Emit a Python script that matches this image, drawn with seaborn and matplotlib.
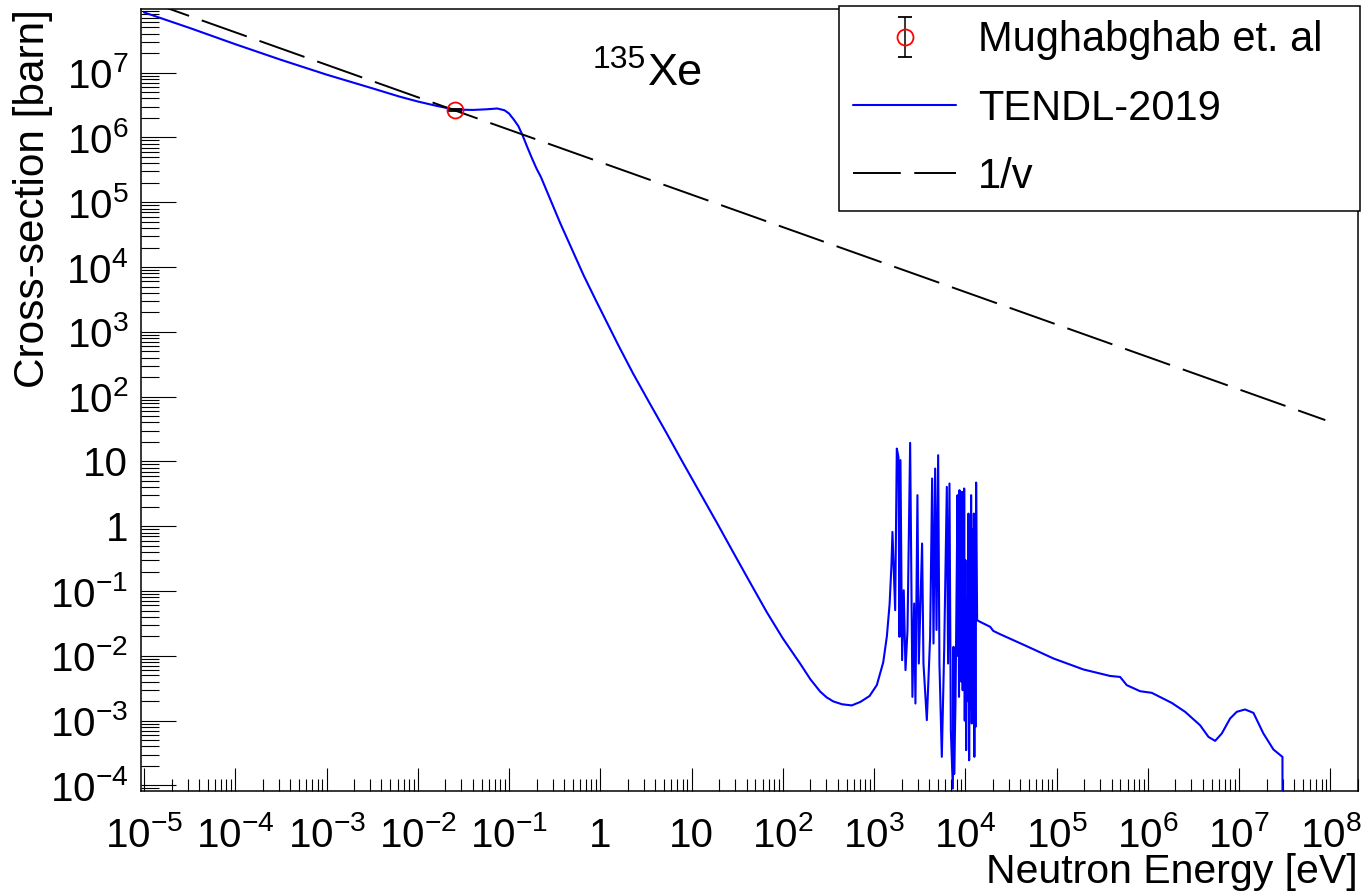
import numpy as np
import pandas as pd
import matplotlib
matplotlib.use("Agg")
import matplotlib.pyplot as plt
import seaborn as sns
from matplotlib.ticker import FixedLocator, FixedFormatter, LogLocator, NullFormatter
from matplotlib.container import ErrorbarContainer
from matplotlib.legend_handler import HandlerErrorbar

# ---------------- data ----------------
# TENDL-2019 135Xe(n,g): thermal / 1/v region, 0.08 eV resonance, valley, first resolved resonance
energy_thermal = [1.00e-5, 3.16e-5, 1.00e-4, 3.16e-4, 1.00e-3, 3.16e-3, 6.31e-3, 1.00e-2, 1.58e-2, 2.51e-2,
                  3.98e-2, 5.62e-2, 7.41e-2, 8.91e-2, 0.100, 0.112, 0.126, 0.141, 0.158, 0.178,
                  0.200, 0.224, 0.282, 0.363, 0.501, 0.652, 0.891, 1.18, 1.58, 2.30,
                  3.55, 5.35, 7.94, 12.4, 19.1, 28.7, 43.7, 66.7, 100, 155,
                  200, 256, 302, 358, 447, 569, 708, 891, 1072, 1259,
                  1380, 1479, 1549, 1589]
xs_thermal = [8.51e7, 4.90e7, 2.75e7, 1.58e7, 9.33e6, 5.75e6, 4.27e6, 3.59e6, 3.09e6, 2.70e6,
              2.66e6, 2.72e6, 2.80e6, 2.63e6, 2.34e6, 1.91e6, 1.51e6, 1.07e6, 7.16e5, 4.79e5,
              3.31e5, 2.43e5, 1.12e5, 4.79e4, 1.74e4, 7.60e3, 3.09e3, 1.40e3, 617, 224,
              75.0, 27.0, 9.89, 3.25, 1.11, 0.393, 0.136, 0.0473, 0.0186, 7.57e-3,
              4.37e-3, 2.82e-3, 2.29e-3, 1.98e-3, 1.79e-3, 1.72e-3, 1.95e-3, 2.40e-3, 3.55e-3, 7.94e-3,
              0.0200, 0.0631, 0.251, 0.818]

# resolved resonance region
energy_resonance = [1702, 1774, 1849, 1897, 1945, 2028, 2113, 2208, 2323, 2483,
                    2630, 2748, 2838, 2985, 3090, 3357, 3475, 3784, 4111, 4325,
                    4477, 4667, 4831, 5035, 5200, 5521, 5861, 6266, 6471, 6699,
                    6934, 7295, 7420, 7540, 7800, 8204, 8300, 8414, 8520, 8630,
                    8760, 8913, 9050, 9226, 9350, 9500, 9600, 9705, 9850, 10023,
                    10200, 10375, 10550, 10814, 11000, 11200, 11380, 11561, 11760, 11967,
                    12150, 12388, 12550, 12706, 12900, 13122]
xs_resonance = [0.0507, 15.8, 11.7, 0.0197, 10.5, 8.59e-3, 0.103, 6.03e-3, 0.0249, 19.4,
                2.33e-3, 0.0643, 1.84e-3, 3.02, 7.62e-3, 0.542, 7.62e-3, 1.02e-3, 0.0197, 5.46,
                0.0155, 7.78, 0.0251, 12.5, 7.62e-3, 2.77e-4, 0.0122, 4.06, 7.62e-3, 4.57,
                7.14e-4, 8.97e-5, 0.0138, 1.5e-4, 2.0e-3, 3.02, 1.0e-2, 0.5, 2.33e-3, 3.61,
                5.0e-3, 1.2, 4.0e-3, 3.40, 2.95e-3, 0.8, 4.0e-3, 3.83, 1.0e-3, 0.3,
                3.51e-4, 0.05, 2.0e-3, 1.57, 2.45e-4, 0.4, 1.5e-3, 3.02, 9.04e-4, 0.9,
                1.2e-3, 1.57, 2.77e-4, 0.6, 8.0e-4, 4.73]

# unresolved / fast region
energy_fast = [13459, 14521, 18707, 20230, 24044, 47098, 92257, 1.968e5, 3.855e5, 4.966e5,
               5.875e5, 8.222e5, 1.104e6, 1.828e6, 2.559e6, 3.733e6, 4.613e6, 5.458e6,
               6.457e6, 7.962e6, 9.419e6, 1.161e7, 1.435e7, 1.845e7, 2.377e7, 2.985e7, 3.0e7]
xs_fast = [0.0356, 0.0335, 0.0281, 0.0243, 0.0216, 0.0141, 9.12e-3, 6.17e-3, 4.90e-3, 4.73e-3,
           3.53e-3, 2.85e-3, 2.69e-3, 1.88e-3, 1.37e-3, 8.51e-4, 5.62e-4, 4.88e-4,
           6.34e-4, 1.08e-3, 1.37e-3, 1.49e-3, 1.32e-3, 6.34e-4, 3.59e-4, 2.76e-4, 1.0e-8]

# 1/v reference line (end points)
energy_1v = [1.0e-5, 8.8e7]
xs_1v = [1.33e8, 43.5]

# Mughabghab thermal value
energy_exp = [0.0253]
xs_exp = [2.65e6]
xs_exp_err = [0.11e6]

series_labels = ["Mughabghab et. al", "TENDL-2019", "1/v"]
title_mass = "135"
title_elem = "Xe"
x_title = "Neutron Energy [eV]"
y_title = "Cross-section [barn]"

x_ticks = [1e-5, 1e-4, 1e-3, 1e-2, 1e-1, 1, 10, 1e2, 1e3, 1e4, 1e5, 1e6, 1e7, 1e8]
x_tick_labels = [r"$\mathdefault{10^{-5}}$", r"$\mathdefault{10^{-4}}$", r"$\mathdefault{10^{-3}}$",
                 r"$\mathdefault{10^{-2}}$", r"$\mathdefault{10^{-1}}$", "1", "10",
                 r"$\mathdefault{10^{2}}$", r"$\mathdefault{10^{3}}$", r"$\mathdefault{10^{4}}$",
                 r"$\mathdefault{10^{5}}$", r"$\mathdefault{10^{6}}$", r"$\mathdefault{10^{7}}$",
                 r"$\mathdefault{10^{8}}$"]
y_ticks = [1e-4, 1e-3, 1e-2, 1e-1, 1, 10, 1e2, 1e3, 1e4, 1e5, 1e6, 1e7]
y_tick_labels = [r"$\mathdefault{10^{-4}}$", r"$\mathdefault{10^{-3}}$", r"$\mathdefault{10^{-2}}$",
                 r"$\mathdefault{10^{-1}}$", "1", "10", r"$\mathdefault{10^{2}}$",
                 r"$\mathdefault{10^{3}}$", r"$\mathdefault{10^{4}}$", r"$\mathdefault{10^{5}}$",
                 r"$\mathdefault{10^{6}}$", r"$\mathdefault{10^{7}}$"]

x_limits = (9.2e-6, 2.01e8)
y_limits = (8.3e-5, 9.5e7)

# ---------------- style ----------------
sns.set_theme(style="white")
plt.rcParams["font.family"] = ["Liberation Sans", "DejaVu Sans"]
plt.rcParams["mathtext.fontset"] = "custom"
plt.rcParams["mathtext.rm"] = "Liberation Sans"
plt.rcParams["mathtext.it"] = "Liberation Sans:italic"
plt.rcParams["mathtext.bf"] = "Liberation Sans:bold"
plt.rcParams["mathtext.sf"] = "Liberation Sans"
plt.rcParams["lines.scale_dashes"] = False
plt.rcParams["axes.edgecolor"] = "black"
plt.rcParams["text.color"] = "black"
plt.rcParams["axes.labelcolor"] = "black"
plt.rcParams["xtick.color"] = "black"
plt.rcParams["ytick.color"] = "black"

fig = plt.figure(figsize=(13.69, 8.96), dpi=100)
fig.patch.set_facecolor("white")
ax = fig.add_axes([0.1028, 0.1175, 0.8892, 0.8721])
ax.set_xscale("log")
ax.set_yscale("log")

df_tendl = pd.DataFrame({
    "E": energy_thermal + energy_resonance + energy_fast,
    "xs": xs_thermal + xs_resonance + xs_fast,
})
df_1v = pd.DataFrame({"E": energy_1v, "xs": xs_1v})

sns.lineplot(data=df_tendl, x="E", y="xs", ax=ax, sort=False, estimator=None,
             color="#0000ff", linewidth=1.5, zorder=3)
line_tendl = ax.get_lines()[-1]
line_tendl.set_solid_joinstyle("round")
sns.lineplot(data=df_1v, x="E", y="xs", ax=ax, sort=False, estimator=None,
             color="black", linewidth=1.4, zorder=4)
line_1v = ax.get_lines()[-1]
line_1v.set_dashes((34.4, 9.7))

eb = ax.errorbar(energy_exp, xs_exp, yerr=xs_exp_err, fmt="o", ms=11.5, mfc="none",
                 mec="red", mew=1.3, ecolor="black", elinewidth=1.1, capsize=5,
                 capthick=1.1, zorder=6)

ax.set_xlim(*x_limits)
ax.set_ylim(*y_limits)

ax.xaxis.set_major_locator(FixedLocator(x_ticks))
ax.xaxis.set_major_formatter(FixedFormatter(x_tick_labels))
ax.yaxis.set_major_locator(FixedLocator(y_ticks))
ax.yaxis.set_major_formatter(FixedFormatter(y_tick_labels))
ax.xaxis.set_minor_locator(LogLocator(base=10, subs=np.arange(2, 10), numticks=200))
ax.yaxis.set_minor_locator(LogLocator(base=10, subs=np.arange(2, 10), numticks=200))
ax.xaxis.set_minor_formatter(NullFormatter())
ax.yaxis.set_minor_formatter(NullFormatter())

ax.tick_params(axis="x", which="major", direction="in", length=16.5, width=0.8,
               pad=40.3, labelsize=29, top=False, bottom=True, colors="black")
ax.tick_params(axis="x", which="minor", direction="in", length=8.5, width=0.8,
               top=False, bottom=True, colors="black")
ax.tick_params(axis="y", which="major", direction="in", length=25, width=0.8,
               pad=9, labelsize=29, right=False, left=True, colors="black")
ax.tick_params(axis="y", which="minor", direction="in", length=13, width=0.8,
               right=False, left=True, colors="black")
for t in ax.xaxis.get_major_ticks(len(x_ticks)):
    t.label1.set_verticalalignment("baseline")

for sp in ax.spines.values():
    sp.set_visible(True)
    sp.set_color("black")
    sp.set_linewidth(1.1)

ax.set_xlabel(x_title, fontsize=29.5, loc="right")
ax.xaxis.set_label_coords(1.0, -0.0797)
ax.set_ylabel(y_title, fontsize=30.5, loc="top")
ax.yaxis.set_label_coords(-0.072, 1.0)

fig.text(593 / 1369, 1 - 68.3 / 896, title_mass, fontsize=23, ha="left", va="baseline")
fig.text(648 / 1369, 1 - 85 / 896, title_elem, fontsize=32.5, ha="left", va="baseline")

leg = ax.legend([eb, line_tendl, line_1v], series_labels, loc="upper left",
                bbox_to_anchor=(0.6129, 0.7645, 0.3806, 0.2288),
                bbox_transform=fig.transFigure, mode="expand", borderaxespad=0,
                fontsize=30, frameon=True, fancybox=False, shadow=False, framealpha=1,
                edgecolor="black", borderpad=0.34, labelspacing=0.68,
                handlelength=2.47, handletextpad=0.52, numpoints=1,
                handler_map={ErrorbarContainer: HandlerErrorbar(yerr_size=0.48)})
leg.get_frame().set_linewidth(1.1)

fig.savefig("out.png", dpi=100, facecolor="white")
